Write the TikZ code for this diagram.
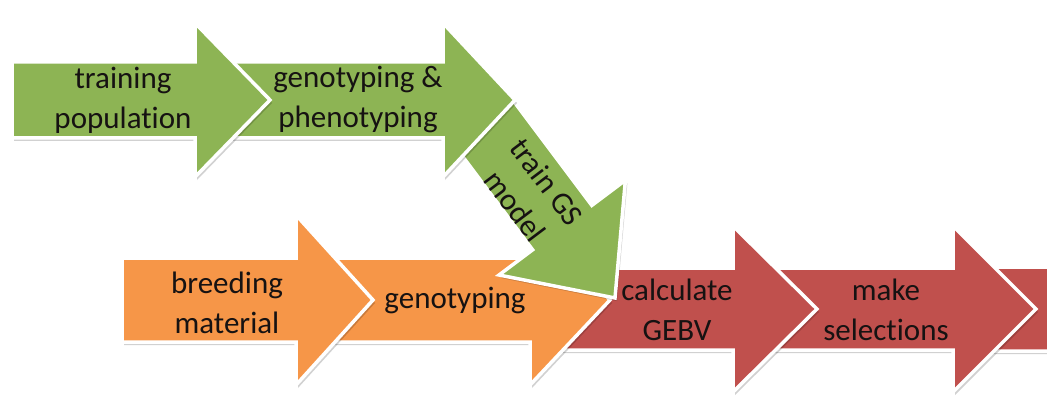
\documentclass[tikz,border=0pt]{standalone}
\usepackage{fontspec}
\setmainfont{Carlito}[Ligatures=NoCommon]
\definecolor{gsgreen}{RGB}{141,180,84}
\definecolor{gsorange}{RGB}{246,150,72}
\definecolor{gsred}{RGB}{192,80,77}
\definecolor{textdark}{RGB}{22,18,18}
\tikzset{
  arrowshape/.style={draw=white, line width=3.5pt, line join=miter},
  arrowshadow/.style={fill=black, opacity=0.18},
  steplabel/.style={text=textdark, font=\fontsize{31}{40}\selectfont, align=center, inner sep=0pt},
}
% color, tail x, head base x, tip x, centre y, body half height, head half height
\newcommand\blockarrow[7]{%
  \fill[arrowshadow, shift={(2,3)}] (#2,#5-#6) -- (#3,#5-#6) -- (#3,#5-#7) -- (#4,#5) -- (#3,#5+#7) -- (#3,#5+#6) -- (#2,#5+#6) -- cycle;
  \filldraw[arrowshape, fill=#1] (#2,#5-#6) -- (#3,#5-#6) -- (#3,#5-#7) -- (#4,#5) -- (#3,#5+#7) -- (#3,#5+#6) -- (#2,#5+#6) -- cycle;
}
\begin{document}
\begin{tikzpicture}[x=1pt, y=-1pt]
\useasboundingbox (0,0) rectangle (1047,401);
\clip (0,0) rectangle (1047,401);
% red row
\blockarrow{gsred}{960}{1100}{1180}{309}{42}{83}
\blockarrow{gsred}{740}{953}{1036}{309}{41}{83}
\blockarrow{gsred}{560}{733}{817}{309}{41}{83}
% orange row
\blockarrow{gsorange}{300}{530}{610}{300}{42}{85}
\blockarrow{gsorange}{122}{296}{373}{300}{42}{85}
% diagonal green arrow
\fill[arrowshadow, shift={(2,3)}] (509.6,95.8) -- (591.8,205.4) -- (625.4,180.2) -- (615,298) -- (499,275) -- (532.6,249.8) -- (450.4,140.2) -- cycle;
\filldraw[arrowshape, fill=gsgreen] (509.6,95.8) -- (591.8,205.4) -- (625.4,180.2) -- (615,298) -- (499,275) -- (532.6,249.8) -- (450.4,140.2) -- cycle;
% green row
\blockarrow{gsgreen}{200}{443}{515}{100}{38}{77}
\blockarrow{gsgreen}{12}{195}{270}{100}{38}{77}
% labels
\node[steplabel] (train) at (123,100) {training\\population};
\node[steplabel] (geno1) at (358,100) {genotyping \&\\phenotyping};
\node[steplabel, rotate=-53] (model) at (531,194) {train GS\\model};
\node[steplabel] (breed) at (227,303) {breeding\\material};
\node[steplabel] (geno2) at (455,300) {genotyping};
\node[steplabel] (gebv) at (677,310) {calculate\\GEBV};
\node[steplabel] (select) at (886,310) {make\\selections};
\end{tikzpicture}
\end{document}
